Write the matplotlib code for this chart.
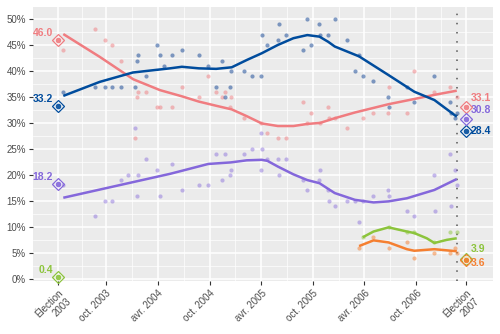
import numpy as np
import pandas as pd
import matplotlib
matplotlib.use('Agg')
import matplotlib.pyplot as plt

plt.rcParams['font.family'] = ['Liberation Sans', 'DejaVu Sans']

# sondages : PLQ
plq_dates = ['2003-05-01', '2003-08-23', '2003-09-27', '2003-10-23', '2003-11-23', '2004-01-10',
             '2004-01-17', '2004-01-23', '2004-02-20', '2004-03-28', '2004-04-09', '2004-05-22',
             '2004-06-26', '2004-08-24', '2004-09-26', '2004-10-24', '2004-11-15', '2004-11-25',
             '2004-12-13', '2004-12-17', '2005-01-30', '2005-04-02', '2005-04-23', '2005-05-30',
             '2005-06-27', '2005-08-28', '2005-09-11', '2005-09-25', '2005-10-25', '2005-11-22',
             '2005-11-26', '2005-12-17', '2006-01-28', '2006-03-26', '2006-04-30', '2006-06-23',
             '2006-06-27', '2006-08-29', '2006-09-24', '2006-12-04', '2007-01-29', '2007-02-21']
plq_vals = [44, 48, 46, 45, 42, 27, 35, 36, 36, 33, 33, 33, 37, 35, 39, 36, 35, 36, 33, 35, 31,
            30, 28, 27, 27, 34, 30, 32, 30, 33, 31, 31, 29, 31, 32, 32, 37, 32, 40, 36, 37, 35]

# PQ
pq_dates = ['2003-05-01', '2003-08-23', '2003-09-27', '2003-10-23', '2003-11-23', '2004-01-10',
            '2004-01-17', '2004-01-23', '2004-02-20', '2004-03-28', '2004-04-09', '2004-04-24',
            '2004-05-22', '2004-06-26', '2004-08-24', '2004-09-26', '2004-10-24', '2004-11-15',
            '2004-11-25', '2004-12-13', '2004-12-17', '2005-01-30', '2005-02-27', '2005-03-31',
            '2005-04-04', '2005-04-23', '2005-05-30', '2005-06-04', '2005-06-27', '2005-08-28',
            '2005-09-11', '2005-09-25', '2005-10-23', '2005-10-27', '2005-11-24', '2005-12-17',
            '2006-01-28', '2006-02-26', '2006-03-13', '2006-03-26', '2006-04-30', '2006-06-23',
            '2006-06-27', '2006-08-29', '2006-09-24', '2006-12-04', '2007-01-27', '2007-01-31',
            '2007-02-13', '2007-02-21']
pq_vals = [36, 37, 37, 37, 37, 37, 42, 43, 39, 45, 43, 41, 43, 44, 43, 41, 37, 42, 35, 37, 40,
           40, 39, 39, 47, 45, 46, 49, 47, 44, 50, 45, 49, 47, 47, 50, 46, 40, 43, 39, 38, 35,
           33, 37, 34, 39, 34, 32, 31, 32]

# ADQ
adq_dates = ['2003-05-01', '2003-08-23', '2003-09-27', '2003-10-23', '2003-11-23', '2003-12-16',
             '2004-01-10', '2004-01-17', '2004-01-23', '2004-02-20', '2004-03-28', '2004-04-09',
             '2004-05-22', '2004-06-26', '2004-08-24', '2004-09-26', '2004-10-24', '2004-11-15',
             '2004-11-25', '2004-12-13', '2004-12-17', '2005-01-30', '2005-02-27', '2005-03-31',
             '2005-04-02', '2005-04-04', '2005-04-23', '2005-05-30', '2005-06-04', '2005-06-27',
             '2005-08-28', '2005-09-11', '2005-10-23', '2005-10-27', '2005-11-22', '2005-11-26',
             '2005-12-17', '2006-01-28', '2006-02-26', '2006-03-13', '2006-03-26', '2006-04-30',
             '2006-06-23', '2006-06-27', '2006-08-29', '2006-09-24', '2006-12-04', '2006-12-06',
             '2007-01-27', '2007-01-31', '2007-02-13', '2007-02-21']
adq_vals = [18, 12, 15, 15, 19, 20, 29, 16, 20, 23, 21, 16, 22, 17, 18, 18, 24, 19, 24, 20, 21,
            24, 25, 28, 21, 25, 23, 23, 20, 23, 19, 17, 19, 21, 17, 15, 14, 15, 15, 11, 15, 16,
            17, 16, 13, 12, 20, 13, 24, 14, 21, 18]

# PVQ
pv_dates = ['2006-03-26', '2006-06-25', '2006-08-29', '2006-09-24', '2006-12-04', '2007-01-29',
            '2007-02-21']
pv_vals = [8, 10, 9, 9, 7, 9, 9]

# QS
qs_dates = ['2006-03-13', '2006-04-30', '2006-06-25', '2006-08-29', '2006-09-24', '2006-12-04',
            '2007-01-29', '2007-02-13', '2007-02-21']
qs_vals = [6, 8, 6, 7, 4, 5, 5, 6, 5]

# tendances lissées
plq_trend_dates = ['2003-05-03', '2003-09-09', '2004-01-05', '2004-04-09', '2004-06-26',
                   '2004-08-24', '2004-10-24', '2004-12-18', '2005-02-09', '2005-04-03',
                   '2005-05-30', '2005-07-24', '2005-09-11', '2005-10-26', '2005-12-17',
                   '2006-02-26', '2006-06-25', '2006-09-24', '2006-12-04', '2007-02-21']
plq_trend = [47.1, 42.7, 38.4, 36.3, 35.1, 34.1, 33.3, 32.6, 31.3, 29.9, 29.4, 29.4, 29.8, 30.0,
             30.9, 32.0, 33.6, 34.6, 35.4, 36.2]

pq_trend_dates = ['2003-05-03', '2003-09-09', '2004-01-04', '2004-05-14', '2004-06-25',
                  '2004-08-24', '2004-10-24', '2004-12-18', '2005-02-09', '2005-04-03',
                  '2005-05-30', '2005-07-24', '2005-09-11', '2005-10-24', '2005-11-24',
                  '2005-12-17', '2006-03-13', '2006-06-25', '2006-09-24', '2006-12-04',
                  '2007-02-21']
pq_trend = [35.2, 37.9, 39.7, 40.5, 40.8, 40.5, 40.4, 40.7, 42.1, 43.4, 45.0, 46.3, 46.9, 46.6,
            45.6, 44.7, 42.8, 39.2, 36.0, 34.4, 31.2]

adq_trend_dates = ['2003-05-03', '2004-05-14', '2004-06-26', '2004-09-26', '2004-12-15',
                   '2005-02-09', '2005-04-03', '2005-04-23', '2005-05-30', '2005-07-24',
                   '2005-09-11', '2005-10-24', '2005-11-24', '2005-12-17', '2006-02-26',
                   '2006-05-03', '2006-06-25', '2006-08-29', '2006-12-04', '2007-02-21']
adq_trend = [15.6, 20.2, 20.8, 22.1, 22.4, 22.8, 22.9, 22.7, 21.6, 20.1, 19.0, 18.4, 17.3, 16.5,
             15.2, 14.7, 14.9, 15.5, 17.1, 19.2]

pv_trend_dates = ['2006-03-26', '2006-05-03', '2006-06-25', '2006-08-29', '2006-09-24',
                  '2006-11-07', '2006-12-04', '2007-01-17', '2007-02-21']
pv_trend = [8.0, 9.1, 9.9, 9.1, 8.8, 7.8, 6.9, 7.5, 7.8]

qs_trend_dates = ['2006-03-13', '2006-05-03', '2006-06-25', '2006-08-29', '2006-09-24',
                  '2006-12-04', '2007-02-21']
qs_trend = [6.3, 7.4, 7.0, 5.7, 5.4, 5.7, 5.3]

# résultats des élections
elec_dates = ['2003-04-14', '2007-03-26']
plq_res = [46.0, 33.1]
pq_res = [33.2, 28.4]
adq_res = [18.2, 30.8]
pv_res = [0.4, 3.9]
qs_res = [np.nan, 3.6]

dissolution = '2007-02-21'

tick_dates = ['2003-04-14', '2003-10-01', '2004-04-01', '2004-10-01', '2005-04-01',
              '2005-10-01', '2006-04-01', '2006-10-01', '2007-03-26']
tick_labels = ['Élection\n2003', 'oct. 2003', 'avr. 2004', 'oct. 2004', 'avr. 2005',
               'oct. 2005', 'avr. 2006', 'oct. 2006', 'Élection\n2007']

c_plq = '#F07C80'
c_pq = '#004C9D'
c_adq = '#8467DB'
c_pv = '#8CC43C'
c_qs = '#F57F30'

d = pd.to_datetime

fig = plt.figure(figsize=(5, 3.34), dpi=100)
ax = fig.add_axes([0.066, 0.159, 0.920, 0.820])
ax.set_facecolor('#EBEBEB')

ax.axvline(d(dissolution), color='#555555', lw=1.1, ls=(0, (1, 5)), zorder=2)

series = [
    (plq_dates, plq_vals, plq_trend_dates, plq_trend, c_plq, c_plq, 0.5),
    (pq_dates, pq_vals, pq_trend_dates, pq_trend, c_pq, '#1F4F9A', 0.55),
    (adq_dates, adq_vals, adq_trend_dates, adq_trend, c_adq, c_adq, 0.45),
    (pv_dates, pv_vals, pv_trend_dates, pv_trend, c_pv, c_pv, 0.5),
    (qs_dates, qs_vals, qs_trend_dates, qs_trend, c_qs, c_qs, 0.5),
]
for dates, vals, tdates, tvals, col, pcol, a in series:
    ax.scatter(d(dates), vals, s=9, color=pcol, alpha=a, lw=0, zorder=3)
for dates, vals, tdates, tvals, col, pcol, a in series:
    ax.plot(d(tdates), tvals, color=col, lw=1.8, zorder=4, solid_capstyle='butt')

# points des résultats + étiquettes
results = [(plq_res, c_plq), (pq_res, c_pq), (adq_res, c_adq), (pv_res, c_pv), (qs_res, c_qs)]
offsets_2007 = [(3.5, 3), (3.5, 0), (3.5, 3), (3.5, 3), (3.5, -2)]
for (res, col), off in zip(results, offsets_2007):
    for i, v in enumerate(res):
        if np.isnan(v):
            continue
        x = d(elec_dates[i])
        ax.plot([x], [v], marker='D', ms=6.5, mfc='none', mec=col, mew=0.9, zorder=5, clip_on=False)
        ax.plot([x], [v], marker='o', ms=4.6, color=col, mec='white', mew=0.5, alpha=0.9,
                zorder=6, clip_on=False)
        if i == 0:
            ax.annotate(f'{v:.1f}', (x, v), xytext=(-3.5, 1.5), textcoords='offset points',
                        ha='right', va='bottom', color=col, fontsize=7.5, fontweight='bold')
        else:
            ax.annotate(f'{v:.1f}', (x, v), xytext=off, textcoords='offset points',
                        ha='left', va='bottom' if off[1] > 0 else 'center', color=col,
                        fontsize=7.5, fontweight='bold')

ax.set_xlim(d('2003-01-16'), d('2007-06-29'))
ax.set_ylim(-0.4, 52.3)

ax.set_xticks(d(tick_dates))
ax.set_xticklabels(tick_labels, rotation=45, ha='right', rotation_mode='anchor',
                   multialignment='right')
tick_num = matplotlib.dates.date2num(d(tick_dates))
ax.set_xticks((tick_num[:-1] + tick_num[1:]) / 2, minor=True)
ax.set_yticks(np.arange(0, 51, 5))
ax.set_yticklabels([f'{v}%' for v in range(0, 51, 5)])
ax.set_yticks(np.arange(2.5, 52, 5), minor=True)

ax.grid(which='major', color='white', lw=1.1)
ax.grid(which='minor', color='white', lw=0.5)
ax.set_axisbelow(True)
ax.tick_params(which='major', length=3, width=0.8, color='#333333', labelsize=7,
               labelcolor='#4D4D4D', pad=2)
ax.tick_params(which='minor', length=0)
for s in ax.spines.values():
    s.set_visible(False)

fig.savefig('out.png', dpi=100)
